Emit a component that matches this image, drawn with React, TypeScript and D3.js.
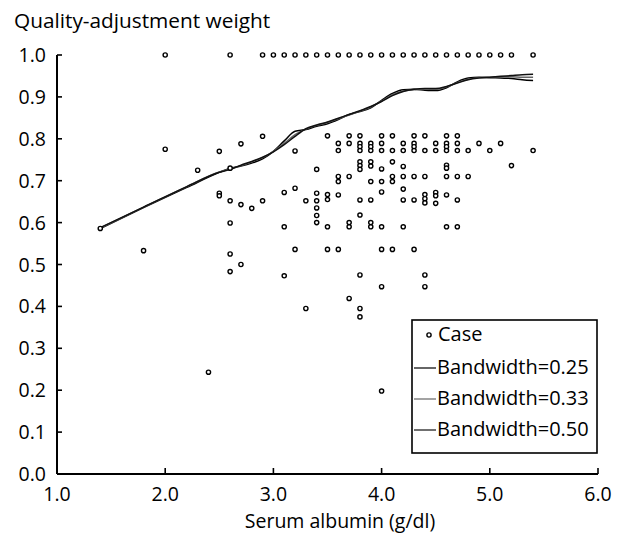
import * as d3 from "d3";

// scatter of cases (albumin g/dl, quality-adjustment weight)
const caseAlbumin = [
  2.0, 2.6, 2.9, 3.0, 3.1, 3.2, 3.3, 3.4, 3.5, 3.6, 3.7, 3.8, 3.9, 4.0, 4.1, 4.2, 4.3, 4.4, 4.5, 4.6, 4.7, 4.8, 4.9, 5.0, 5.1, 5.2, 5.4,
  2.0, 2.5, 2.7, 2.9, 3.5, 3.7, 3.8, 4.0, 4.1, 4.3, 4.4, 4.6, 4.7, 3.2,
  3.6, 3.7, 3.8, 3.9, 4.0, 4.2, 4.3, 4.5, 4.6, 4.7, 4.9, 5.1,
  3.8, 3.9, 4.3, 4.6,
  3.6, 3.8, 3.9, 4.0, 4.1, 4.2, 4.3, 4.4, 4.5, 4.6, 4.7, 4.8, 5.0, 5.4,
  2.3, 2.6, 3.4, 3.8, 3.8, 3.8, 3.9, 3.9, 4.0, 4.1, 4.2, 4.6, 4.6, 5.2,
  3.6, 3.7, 4.1, 4.2, 4.3, 4.4, 4.6, 4.7, 4.8,
  3.6, 3.9, 4.0, 4.1, 4.2, 4.0,
  2.5, 2.5, 2.6, 2.7, 2.8, 2.9, 3.1, 3.2, 3.3,
  3.4, 3.4, 3.4, 3.4, 3.4, 3.5, 3.5, 3.6,
  3.8, 3.9, 4.2, 4.3, 4.7, 4.4, 4.4, 4.4, 4.5, 4.5, 4.5, 4.6, 3.8,
  2.6, 3.1, 3.5, 3.7, 3.7, 3.9, 3.9, 4.0, 4.2, 4.6, 4.7, 1.4,
  1.8, 3.2, 3.5, 3.6, 4.0, 4.1, 4.3,
  2.6, 2.7, 2.6, 3.1, 3.8, 4.4, 4.0, 4.4, 3.7, 3.3, 3.8, 3.8, 4.0, 2.4,
];
const caseWeight = [
  1.0, 1.0, 1.0, 1.0, 1.0, 1.0, 1.0, 1.0, 1.0, 1.0, 1.0, 1.0, 1.0, 1.0, 1.0, 1.0, 1.0, 1.0, 1.0, 1.0, 1.0, 1.0, 1.0, 1.0, 1.0, 1.0, 1.0,
  0.775, 0.77, 0.788, 0.806, 0.807, 0.807, 0.807, 0.807, 0.807, 0.807, 0.807, 0.807, 0.807, 0.771,
  0.789, 0.789, 0.789, 0.789, 0.789, 0.789, 0.789, 0.789, 0.789, 0.789, 0.789, 0.789,
  0.781, 0.781, 0.781, 0.781,
  0.772, 0.772, 0.772, 0.772, 0.772, 0.772, 0.772, 0.772, 0.772, 0.772, 0.772, 0.772, 0.772, 0.772,
  0.725, 0.73, 0.727, 0.745, 0.736, 0.727, 0.745, 0.735, 0.728, 0.745, 0.734, 0.737, 0.73, 0.736,
  0.71, 0.71, 0.71, 0.71, 0.71, 0.71, 0.71, 0.71, 0.71,
  0.698, 0.698, 0.698, 0.698, 0.68, 0.673,
  0.67, 0.664, 0.652, 0.643, 0.634, 0.652, 0.672, 0.682, 0.652,
  0.67, 0.652, 0.635, 0.617, 0.6, 0.667, 0.655, 0.666,
  0.654, 0.654, 0.654, 0.654, 0.654, 0.667, 0.657, 0.647, 0.672, 0.664, 0.646, 0.666, 0.618,
  0.599, 0.59, 0.59, 0.6, 0.59, 0.6, 0.59, 0.59, 0.59, 0.59, 0.59, 0.586,
  0.533, 0.536, 0.536, 0.536, 0.536, 0.536, 0.536,
  0.525, 0.5, 0.483, 0.473, 0.475, 0.475, 0.447, 0.447, 0.419, 0.395, 0.395, 0.375, 0.198, 0.243,
];

// smoothed curves
const curveAlbumin = [1.4, 1.8, 2.2, 2.5, 2.6, 2.7, 2.8, 2.9, 3.0, 3.1, 3.2, 3.3, 3.4, 3.5, 3.6, 3.7, 3.8, 3.9, 4.0, 4.1, 4.2, 4.3, 4.4, 4.5, 4.6, 4.7, 4.8, 4.9, 5.0, 5.1, 5.2, 5.3, 5.4];
const bw25 = [0.586, 0.636, 0.684, 0.72, 0.73, 0.735, 0.742, 0.752, 0.77, 0.795, 0.818, 0.822, 0.83, 0.836, 0.846, 0.858, 0.865, 0.874, 0.892, 0.908, 0.917, 0.918, 0.916, 0.915, 0.922, 0.936, 0.945, 0.947, 0.946, 0.945, 0.944, 0.941, 0.939];
const bw33 = [0.587, 0.637, 0.686, 0.721, 0.728, 0.736, 0.745, 0.755, 0.77, 0.789, 0.81, 0.823, 0.832, 0.839, 0.848, 0.857, 0.866, 0.876, 0.89, 0.905, 0.914, 0.917, 0.919, 0.918, 0.924, 0.934, 0.942, 0.946, 0.947, 0.948, 0.948, 0.947, 0.947];
const bw50 = [0.588, 0.637, 0.686, 0.72, 0.727, 0.737, 0.746, 0.756, 0.769, 0.786, 0.806, 0.824, 0.833, 0.84, 0.849, 0.858, 0.867, 0.877, 0.889, 0.903, 0.913, 0.918, 0.92, 0.92, 0.925, 0.933, 0.941, 0.945, 0.947, 0.949, 0.951, 0.953, 0.954];

const xTicks = [1, 2, 3, 4, 5, 6];
const yTicks = [0, 0.1, 0.2, 0.3, 0.4, 0.5, 0.6, 0.7, 0.8, 0.9, 1.0];

const series = [
  { label: "Bandwidth=0.25", values: bw25, color: "#000" },
  { label: "Bandwidth=0.33", values: bw33, color: "#666" },
  { label: "Bandwidth=0.50", values: bw50, color: "#111" },
];

export default function App() {
  const width = 622;
  const height = 535;
  const font = "'Open Sans', 'Noto Sans', sans-serif";
  const fs = 19.5;

  const x = d3.scaleLinear().domain([1, 6]).range([57, 598]);
  const y = d3.scaleLinear().domain([0, 1]).range([474, 55]);

  const line = (vals: number[]) =>
    d3
      .line<number>()
      .x((_, i) => x(curveAlbumin[i]))
      .y((d) => y(d))
      .curve(d3.curveMonotoneX)(vals) || "";

  const leg = { x: 412, y: 320, w: 185, h: 133 };

  return (
    <svg
      width={width}
      height={height}
      style={{ position: "absolute", left: 0, top: 0, background: "#fff" }}
      fontFamily={font}
    >
      <text x={14} y={28} fontSize={20.8}>
        Quality-adjustment weight
      </text>

      {/* curves */}
      {series.map((s) => (
        <path key={s.label} d={line(s.values)} fill="none" stroke={s.color} strokeWidth={1.5} />
      ))}

      {/* points */}
      {caseAlbumin.map((a, i) => (
        <circle key={i} cx={x(a)} cy={y(caseWeight[i])} r={2.1} fill="#fff" stroke="#000" strokeWidth={1.4} />
      ))}

      {/* axes */}
      <line x1={x(1)} x2={x(6)} y1={y(0)} y2={y(0)} stroke="#000" strokeWidth={2} />
      <line x1={x(1)} x2={x(1)} y1={y(0)} y2={y(1)} stroke="#000" strokeWidth={2} />
      {xTicks.map((t) => (
        <g key={t}>
          <line x1={x(t)} x2={x(t)} y1={y(0)} y2={y(0) - 6} stroke="#000" strokeWidth={1.6} />
          <text x={x(t)} y={501} fontSize={fs} textAnchor="middle">
            {d3.format(".1f")(t)}
          </text>
        </g>
      ))}
      {yTicks.map((t) => (
        <g key={t}>
          <line x1={x(1)} x2={x(1) + 5} y1={y(t)} y2={y(t)} stroke="#000" strokeWidth={1.6} />
          <text x={46} y={y(t)} dy="0.36em" fontSize={fs} textAnchor="end">
            {d3.format(".1f")(t)}
          </text>
        </g>
      ))}
      <text x={340} y={528} fontSize={fs} textAnchor="middle">
        Serum albumin (g/dl)
      </text>

      {/* legend */}
      <rect x={leg.x} y={leg.y} width={leg.w} height={leg.h} fill="#fff" stroke="#000" strokeWidth={1.6} />
      <circle cx={429} cy={335} r={2.1} fill="#fff" stroke="#000" strokeWidth={1.4} />
      <text x={438} y={341} fontSize={20}>
        Case
      </text>
      {series.map((s, i) => (
        <g key={s.label}>
          <line x1={414} x2={436} y1={368 + i * 31} y2={368 + i * 31} stroke={s.color} strokeWidth={1.2} />
          <text x={437} y={374 + i * 31} fontSize={20}>
            {s.label}
          </text>
        </g>
      ))}
    </svg>
  );
}
